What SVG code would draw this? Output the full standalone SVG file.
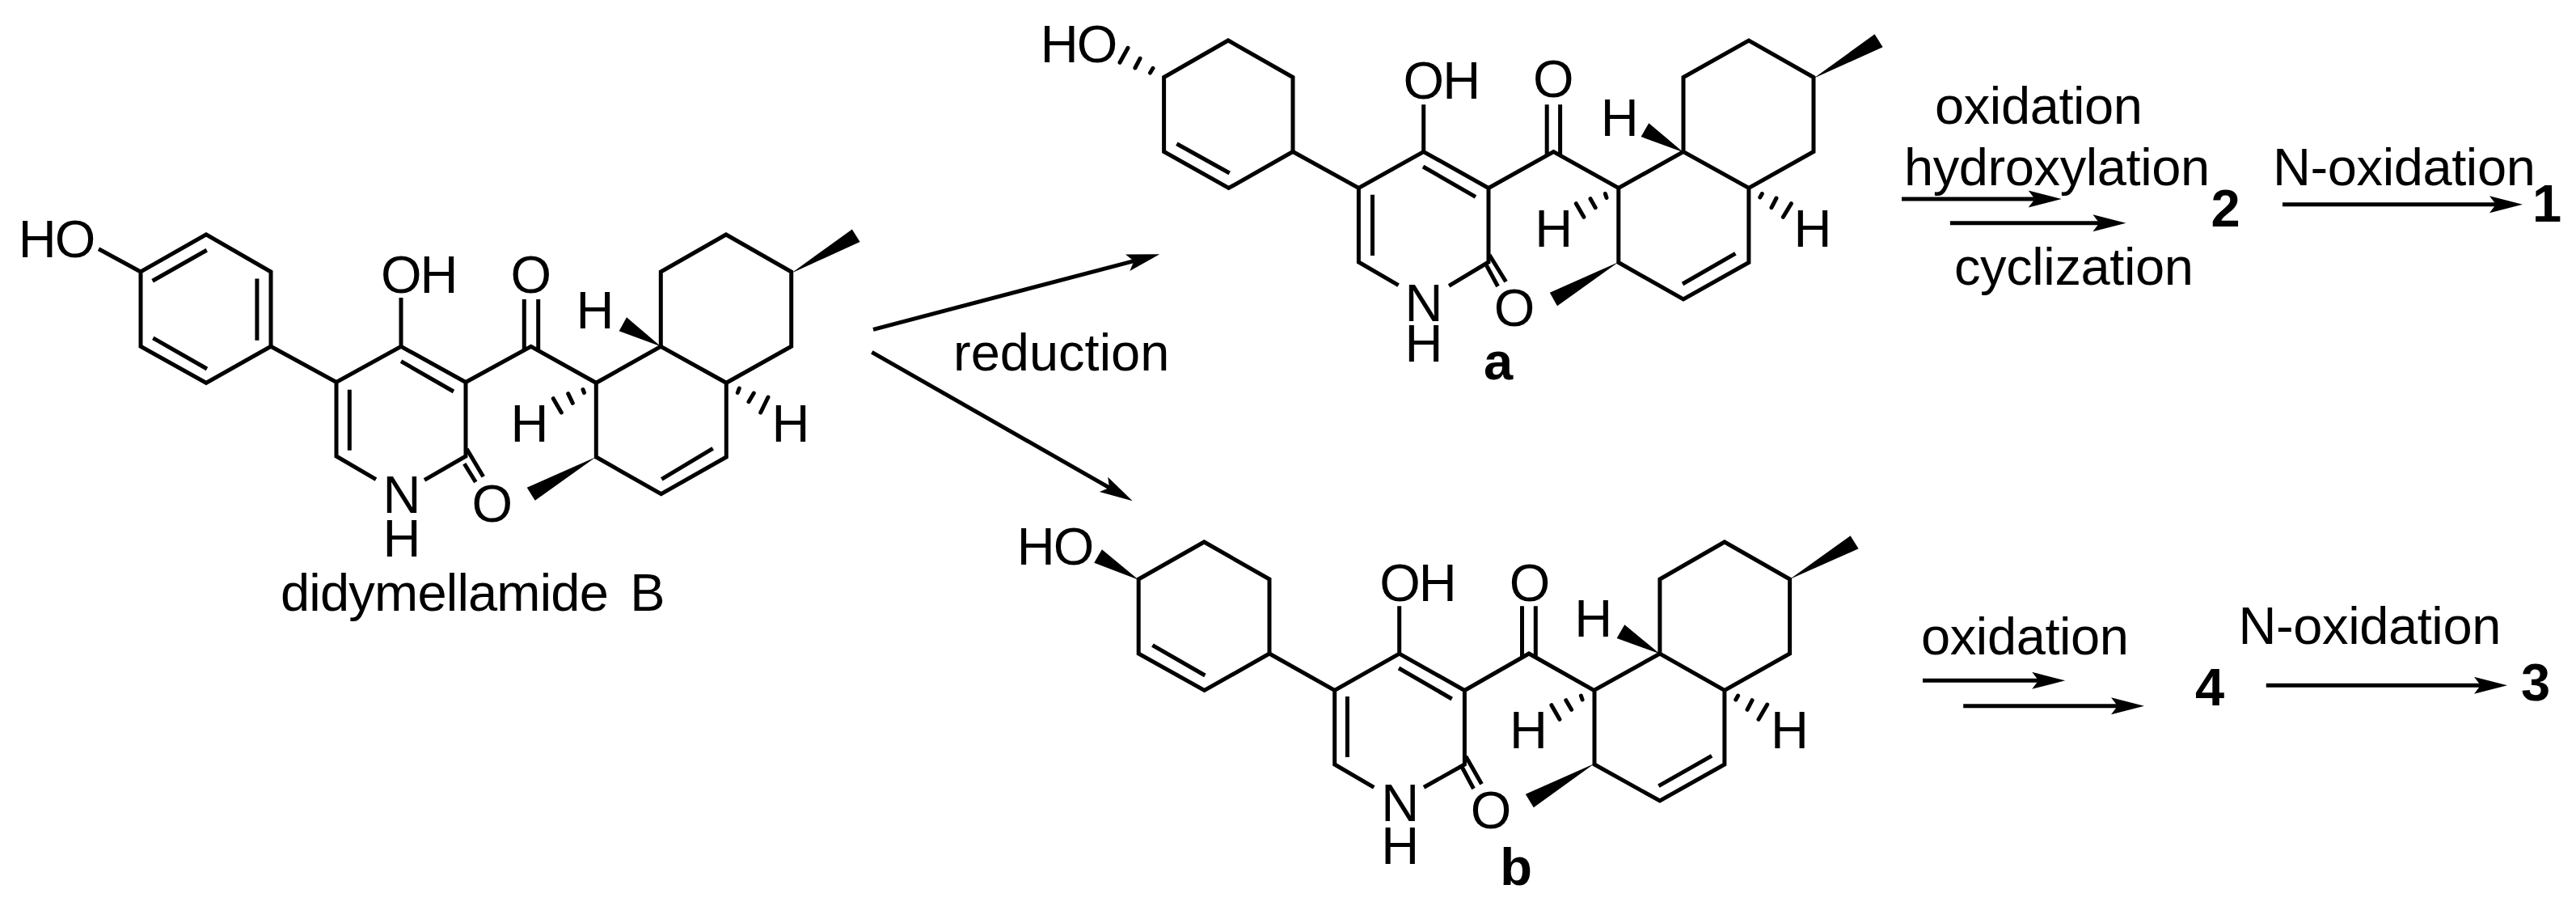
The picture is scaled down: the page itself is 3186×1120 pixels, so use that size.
<svg xmlns="http://www.w3.org/2000/svg" width="3186" height="1120" viewBox="0 0 3186 1120">
<style>
text{font-family:"Liberation Sans",Arial,sans-serif;font-size:65px;fill:#000}
.c{text-anchor:middle}
.b{font-weight:bold}
.hx{letter-spacing:-2px}
.lb{letter-spacing:-0.4px}
.bond{fill:none;stroke:#000;stroke-width:5;stroke-linejoin:miter;stroke-linecap:butt}
.hash{fill:none;stroke:#000;stroke-width:5;stroke-linecap:round}
.wedge{fill:#000;stroke:none}
.arrow{fill:none;stroke:#000;stroke-width:5;marker-end:url(#head)}
</style>
<defs>
<marker id="head" markerUnits="userSpaceOnUse" markerWidth="44" markerHeight="24" refX="8" refY="12" orient="auto" overflow="visible">
<path d="M0,1.5 L41,12 L0,22.5 L8,12 Z" fill="#000"/>
</marker>
</defs>
<rect width="3186" height="1120" fill="#fff"/>

<g id="didymellamide-B">
<path class="bond" d="M122,307.7L174,336L255,290L335,336V428.3L255,473.3L174,428.3V336Z"/>
<path class="bond" d="M188.6,347.2L255.7,309.2M317.9,344.5V420.7M189.3,417.9L256,456"/>
<path class="bond" d="M335,428.3L416,472.5L496,428.3L576,472.5V564L525,593.3M416,472.5V564L465,592.7M496,368V428.3"/>
<path class="bond" d="M496,446.7L561,484M432.3,481.7V556.7M577.3,555L597.7,589.3M574.3,573.3L588.3,596"/>
<path class="bond" d="M576,472.5L656.7,428.3L737.3,473.3L817.3,428.3L898.3,473.3L978.7,428.3V336L898,290L817.3,336V428.3M898.3,473.3V565L817.7,610.7L737.3,565V473.3"/>
<path class="bond" d="M648.3,370V432M665.7,370V432M818.3,592.3L881.7,554.3"/>
<polygon class="wedge" points="978.7,337.7 1053.9,283.5 1063.6,299"/>
<polygon class="wedge" points="817.3,428.3 775,392.3 765.7,409.3"/>
<polygon class="wedge" points="737,565 651.7,602.7 661.7,618.7"/>
<path class="hash" d="M721,481.5L722.5,485.5M702.7,486.7L708.3,498.3M684.3,492.7L694.3,510M914.3,480L912.3,485.5M932.3,486L926,496.7M950,491L940.7,510"/>
<text class="hx" x="22.7" y="318">HO</text>
<text class="hx" x="471" y="362.3">OH</text>
<text class="c" x="656.7" y="362.3">O</text>
<text class="c" x="608.9" y="645">O</text>
<text class="c" x="497" y="634">N</text>
<text class="c" x="497" y="688.3">H</text>
<text class="c" x="736" y="406">H</text>
<text class="c" x="655" y="545.7">H</text>
<text class="c" x="978" y="545.7">H</text>
<text x="347" y="755" letter-spacing="-0.8" word-spacing="10">didymellamide B</text>
</g>

<g id="compound-a">
<path class="bond" d="M1439.6,95.5L1519,50L1599,95.5V187.5L1519.6,232.5L1439.6,187.5Z"/>
<path class="bond" d="M1455.4,177.7L1520.7,214"/>
<path class="bond" d="M1599,187.5L1680.4,232.5L1760.7,187.5L1841,232.5V324L1792.1,353.3M1680.4,232.5V324L1729.6,352.7M1760.7,129.3V187.5"/>
<path class="bond" d="M1760,206L1825,243.3M1697.5,240.7V316M1842,315L1862.5,348.3M1838.6,328.3L1852.5,354"/>
<path class="bond" d="M1841,232.5L1921.4,187.5L2001.8,232.5L2082,187.5L2162.9,232.5L2243,187.5V95.5L2162.9,50L2082,95.5V187.5M2162.9,232.5V324.5L2082,370L2001.8,324.5V232.5"/>
<path class="bond" d="M1913.2,129.3V192M1929.6,129.3V192M2081,351L2146.4,313.3"/>
<polygon class="wedge" points="2243.2,96.7 2318.6,42.3 2328.6,58.3"/>
<polygon class="wedge" points="2082,188.3 2039.3,152.3 2029.6,169"/>
<polygon class="wedge" points="2001.8,324 1916.8,361.7 1926,378.3"/>
<path class="hash" d="M1395,59.3L1385,77.3M1410,72.3L1403.9,84M1426,84.3L1422.5,90M1985.4,239.5L1987,244.5M1967,245.7L1973.2,256.7M1949.3,251.7L1958.9,268.3M2179.3,239.5L2176.8,244M2197,245L2191,256.7M2215.4,251.7L2205.4,268.3"/>
<text class="hx" x="1286.8" y="76.7">HO</text>
<text class="hx" x="1735.6" y="121.7">OH</text>
<text class="c" x="1921.4" y="120.3">O</text>
<text class="c" x="1873" y="403.3">O</text>
<text class="c" x="1761" y="397.3">N</text>
<text class="c" x="1761" y="447.3">H</text>
<text class="c" x="2003.2" y="168.3">H</text>
<text class="c" x="1921.8" y="305.3">H</text>
<text class="c" x="2242" y="305.3">H</text>
<text class="c b" x="1853" y="469.3">a</text>
</g>

<g id="compound-b">
<path class="bond" d="M1408.2,716L1489.3,670L1570,716V808L1489.6,853.5L1408.2,808Z"/>
<path class="bond" d="M1425.4,797.7L1490.4,835"/>
<path class="bond" d="M1570,808L1650.7,853.5L1730.7,808L1811.4,853.5V945L1761,973.3M1650.7,853.5V945L1699.3,973.3M1730.7,749.3V808"/>
<path class="bond" d="M1730,826L1795.7,864M1666.4,861V936M1812.9,935L1832.5,969.3M1808.2,948.3L1822.5,975"/>
<path class="bond" d="M1811.4,853.5L1891,808L1971.4,853.5L2052.9,808L2132.9,853.5L2213.6,808V716L2132.9,670L2052.9,716V808M2132.9,853.5V945L2052.9,990L1972,945V853.5"/>
<path class="bond" d="M1882.5,749.3V813M1899.3,749.3V813M2051.4,971.7L2117.1,934.3"/>
<polygon class="wedge" points="1408.2,716.7 1362.9,679.3 1353.2,695.7"/>
<polygon class="wedge" points="2213.6,716 2288.6,662.3 2298.6,678.3"/>
<polygon class="wedge" points="2052.9,808.3 2009.3,772.3 1999.6,789"/>
<polygon class="wedge" points="1972,944 1886.8,981.7 1896.8,998.3"/>
<path class="hash" d="M1955.4,860L1957.1,865M1936.8,865.7L1943.6,877.3M1918.9,871.7L1928.9,889.3M2149.6,860L2146.8,865M2167.1,865.7L2161,877.3M2185.7,871L2175,889.3"/>
<text class="hx" x="1257.7" y="697.7">HO</text>
<text class="hx" x="1706.3" y="742.7">OH</text>
<text class="c" x="1892" y="742.7">O</text>
<text class="c" x="1844" y="1023.5">O</text>
<text class="c" x="1731.8" y="1015">N</text>
<text class="c" x="1731.8" y="1068.3">H</text>
<text class="c" x="1970.7" y="786.7">H</text>
<text class="c" x="1890.4" y="925.3">H</text>
<text class="c" x="2213.6" y="925.3">H</text>
<text class="c b" x="1875" y="1094.3">b</text>
</g>

<g id="compound-2"><text class="c b" x="2752.5" y="280">2</text></g>
<g id="compound-1"><text class="c b" x="3150" y="274">1</text></g>
<g id="compound-4"><text class="c b" x="2733" y="872">4</text></g>
<g id="compound-3"><text class="c b" x="3136" y="866">3</text></g>

<g id="connectors">
<line class="arrow" x1="1080" y1="407.3" x2="1402.4" y2="322.7"/>
<line class="arrow" x1="1078.3" y1="435.3" x2="1372" y2="602.9"/>
<line class="arrow" x1="2352" y1="246" x2="2516.7" y2="246"/>
<line class="arrow" x1="2411.9" y1="275.7" x2="2596.4" y2="275.7"/>
<line class="arrow" x1="2823" y1="252.7" x2="3087" y2="252.7"/>
<line class="arrow" x1="2378" y1="841.3" x2="2521.2" y2="841.3"/>
<line class="arrow" x1="2428.2" y1="872.7" x2="2619" y2="872.7"/>
<line class="arrow" x1="2802.8" y1="847.3" x2="3068" y2="847.3"/>
</g>

<g id="reaction-labels">
<text x="1179" y="457.7">reduction</text>
<text class="lb" x="2393" y="153.3">oxidation</text>
<text class="lb" x="2355" y="229.3">hydroxylation</text>
<text class="lb" x="2417" y="352.3">cyclization</text>
<text class="lb" x="2811" y="229.3">N-oxidation</text>
<text class="lb" x="2376" y="809">oxidation</text>
<text class="lb" x="2768.5" y="795.7">N-oxidation</text>
</g>
</svg>
